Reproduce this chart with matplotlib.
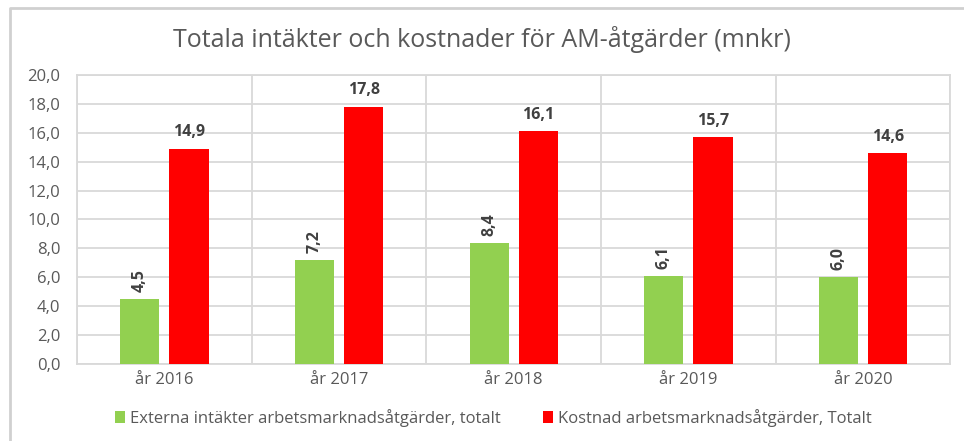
import numpy as np
import matplotlib
matplotlib.use("Agg")
import matplotlib.pyplot as plt
from matplotlib.lines import Line2D
from matplotlib.ticker import FuncFormatter, FixedLocator

plt.rcParams['font.family'] = ['Open Sans', 'DejaVu Sans']

years = ['år 2016', 'år 2017', 'år 2018', 'år 2019', 'år 2020']
externa = [4.5, 7.2, 8.4, 6.1, 6.0]
kostnad = [14.9, 17.8, 16.1, 15.7, 14.6]
series_names = ['Externa intäkter arbetsmarknadsåtgärder, totalt',
                'Kostnad arbetsmarknadsåtgärder, Totalt']

green = '#92D050'
red = '#FF0000'
grid_c = '#D9D9D9'
txt = '#595959'

fig = plt.figure(figsize=(9.64, 4.41), dpi=100)
# outer chart frame (only left and top edges visible in the reference)
fig.lines.append(Line2D([0.0105, 0.0105, 1.0], [0.0, 0.982, 0.982], transform=fig.transFigure,
                        color='#D0D0D0', linewidth=2))
ax = fig.add_axes([0.0799, 0.1746, 0.906, 0.6554])

x = np.arange(len(years))
w = 0.224
b1 = ax.bar(x - 0.141, externa, w, color=green, label=series_names[0], zorder=3)
b2 = ax.bar(x + 0.141, kostnad, w, color=red, label=series_names[1], zorder=3)

fmt = lambda v: f'{v:.1f}'.replace('.', ',')
for r, v in zip(b1, externa):
    ax.annotate(fmt(v), (r.get_x() + r.get_width() / 2, v), xytext=(0, 5),
                textcoords='offset points', ha='center', va='bottom', rotation=90,
                fontsize=11.5, fontweight='bold', color='#404040')
for r, v in zip(b2, kostnad):
    ax.annotate(fmt(v), (r.get_x() + r.get_width() / 2, v), xytext=(0, 6),
                textcoords='offset points', ha='center', va='bottom',
                fontsize=11.5, fontweight='bold', color='#404040')

ax.set_xlim(-0.5, len(years) - 0.5)
ax.set_ylim(0, 20)
ax.set_yticks(np.arange(0, 20.1, 2))
ax.yaxis.set_major_formatter(FuncFormatter(lambda v, p: fmt(v)))
ax.set_xticks(x)
ax.set_xticklabels(years)
ax.xaxis.set_minor_locator(FixedLocator(np.arange(-0.5, len(years), 1)))
ax.grid(axis='y', which='major', color=grid_c, linewidth=1.3, zorder=0)
ax.grid(axis='x', which='minor', color=grid_c, linewidth=1.3, zorder=0)
ax.tick_params(which='both', length=0, colors=txt, labelsize=12)
ax.tick_params(axis='x', pad=6)
ax.tick_params(axis='y', pad=12)
for s in ax.spines.values():
    s.set_color(grid_c)
    s.set_linewidth(1.3)

fig.text(0.5, 0.91, 'Totala intäkter och kostnader för AM-åtgärder (mnkr)',
         ha='center', va='center', fontsize=18, color=txt)

leg = fig.legend(loc='center', bbox_to_anchor=(0.512, 0.052), ncol=2, frameon=False,
                 fontsize=12, handlelength=0.6, handleheight=0.7, handletextpad=0.3,
                 columnspacing=2.5)
for t in leg.get_texts():
    t.set_color(txt)

fig.savefig('out.png', dpi=100)
